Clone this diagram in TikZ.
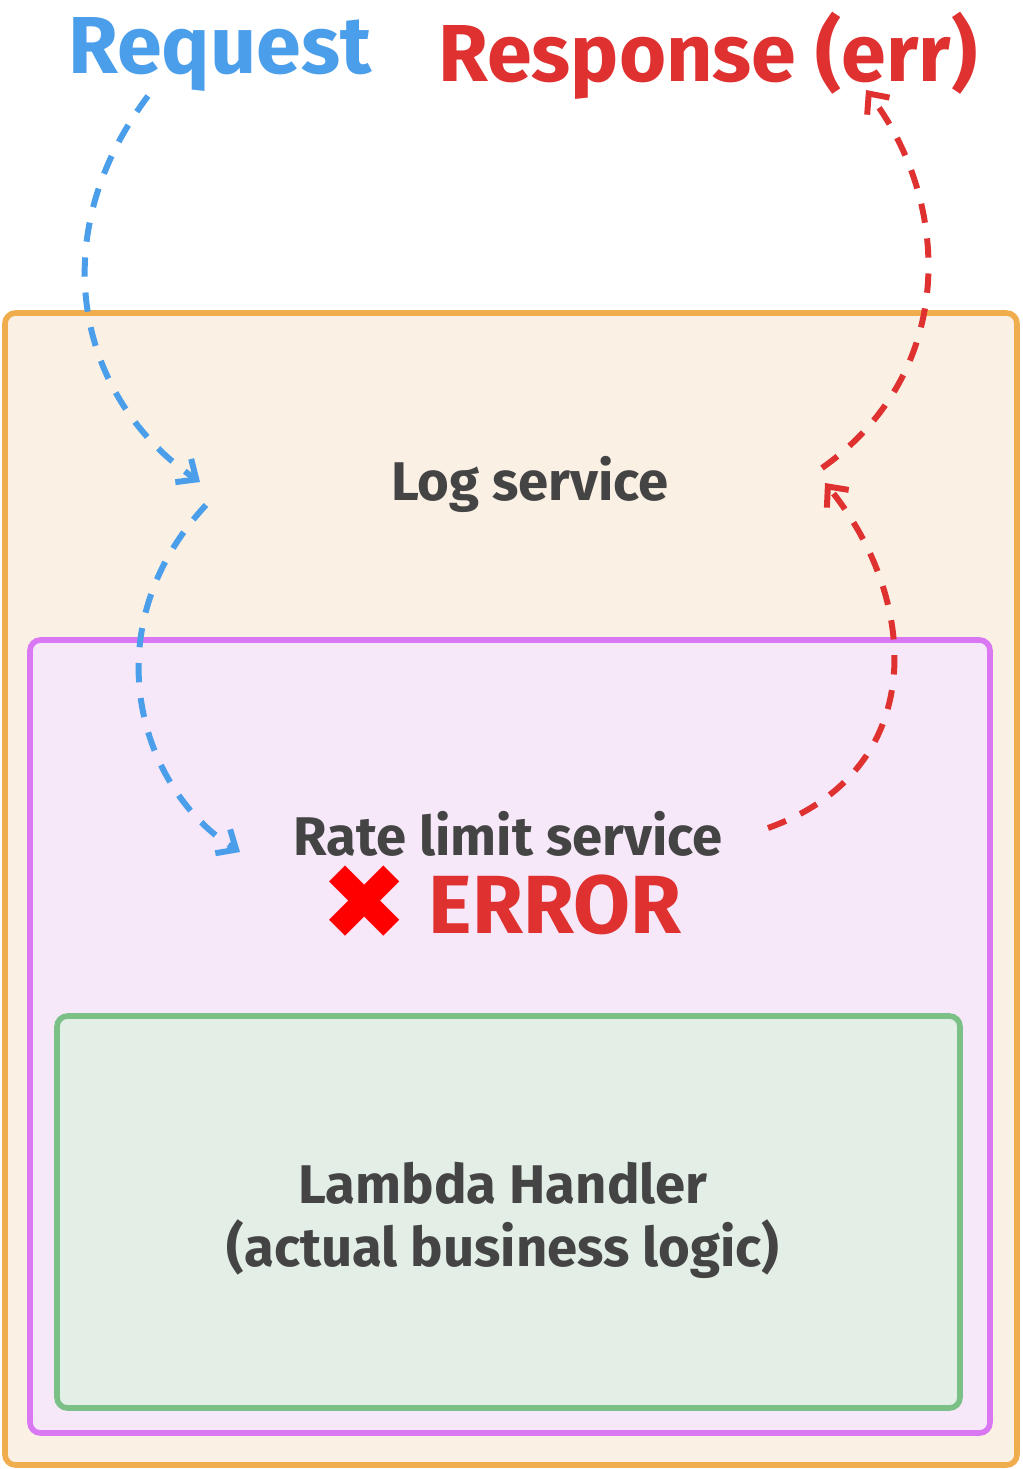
\documentclass[tikz,border=0pt]{standalone}
\usepackage{fontspec}
\setmainfont{Fira Sans}
\usepackage{xcolor}
\usetikzlibrary{arrows.meta}
\definecolor{reqblue}{HTML}{4A9EEA}
\definecolor{errred}{HTML}{E03131}
\definecolor{txtgray}{HTML}{444444}
\tikzset{
  box/.style={rounded corners=6pt, line width=3.2pt},
  flow/.style={dashed, dash pattern=on 11pt off 9pt, line width=3.4pt, -{Straight Barb[length=9pt,width=16pt]}},
  lbl/.style={font=\fontsize{31}{36}\selectfont\bfseries, text=txtgray}
}
\begin{document}
\begin{tikzpicture}[x=0.02cm, y=-0.02cm]
\useasboundingbox (0,0) rectangle (1023,1469);
% Boxes
\draw[box, draw={rgb,255:red,240;green,173;blue,78}, fill={rgb,255:red,250;green,240;blue,228}] (5,313) rectangle (1017,1465);
\draw[box, draw={rgb,255:red,218;green,119;blue,242}, fill={rgb,255:red,246;green,232;blue,249}] (30,640) rectangle (990,1433);
\draw[box, draw={rgb,255:red,123;green,192;blue,134}, fill={rgb,255:red,227;green,238;blue,230}] (57,1016) rectangle (960,1408);

% Labels
\node[font=\fontsize{46}{50}\selectfont\bfseries, text=reqblue] (req) at (220,54) {Request};
\node[font=\fontsize{46}{50}\selectfont\bfseries, text=errred] (resp) at (708,56) {Response (err)};
\node[lbl] (log) at (530,484) {Log service};
\node[lbl] (rate) at (508,834) {Rate limit service};
\node[font=\fontsize{47}{50}\selectfont\bfseries, text=errred] (err) at (555,905) {ERROR};
\node[font=\fontsize{60}{60}\selectfont\bfseries, text=red] (cross) at (365,903) {\fontspec{DejaVu Sans}✖};
\node[lbl, align=center] (lambda) at (503,1220) {Lambda Handler\\(actual business logic)};

% Flow coordinates
\coordinate (a1) at (148,96);
\coordinate (a2) at (200,482);
\coordinate (b1) at (206,505);
\coordinate (b2) at (240,852);
\coordinate (c1) at (768,828);
\coordinate (c2) at (825,483);
\coordinate (d1) at (822,468);
\coordinate (d2) at (866,90);

% Request path
\draw[flow, reqblue] (a1) .. controls (40,240) and (80,400) .. (a2);
\draw[flow, reqblue] (b1) .. controls (90,630) and (140,790) .. (b2);
% Error response path
\draw[flow, errred] (c1) .. controls (930,770) and (920,600) .. (c2);
\draw[flow, errred] (d1) .. controls (960,370) and (950,200) .. (d2);
\end{tikzpicture}
\end{document}
